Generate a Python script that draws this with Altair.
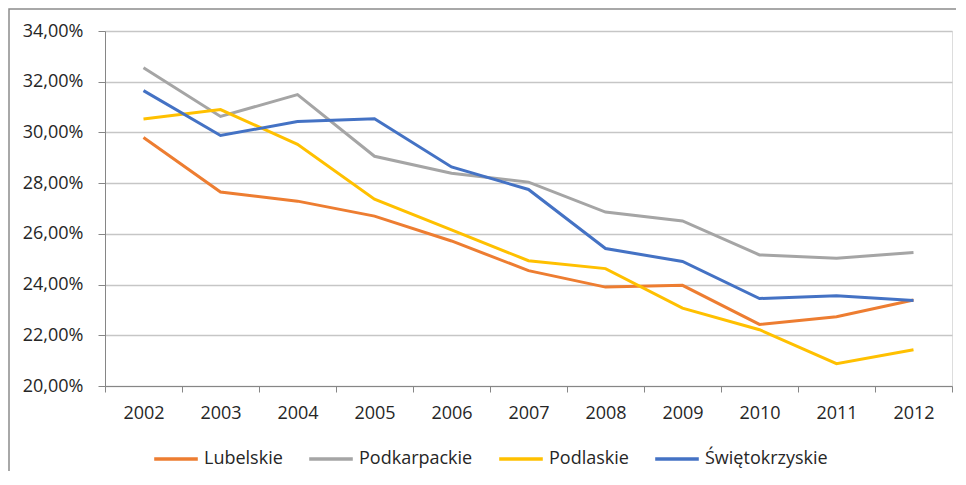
import altair as alt
import pandas as pd

years = ["2002", "2003", "2004", "2005", "2006", "2007", "2008", "2009", "2010", "2011", "2012"]
series_names = ["Lubelskie", "Podkarpackie", "Podlaskie", "Świętokrzyskie"]
lubelskie = [29.80, 27.65, 27.29, 26.70, 25.72, 24.55, 23.90, 23.97, 22.43, 22.73, 23.39]
podkarpackie = [32.55, 30.63, 31.49, 29.06, 28.39, 28.04, 26.86, 26.51, 25.17, 25.04, 25.26]
podlaskie = [30.53, 30.90, 29.53, 27.37, 26.16, 24.94, 24.63, 23.07, 22.22, 20.88, 21.43]
swietokrzyskie = [31.65, 29.88, 30.43, 30.54, 28.64, 27.75, 25.42, 24.91, 23.45, 23.56, 23.37]
colors = ["#ED7D31", "#A5A5A5", "#FFC000", "#4472C4"]
y_ticks = [20, 22, 24, 26, 28, 30, 32, 34]

rows = []
for name, vals in zip(series_names, [lubelskie, podkarpackie, podlaskie, swietokrzyskie]):
    for yr, v in zip(years, vals):
        rows.append({"Rok": yr, "Województwo": name, "Wartość": v})
df = pd.DataFrame(rows)

FONT = "Open Sans"

lines = alt.Chart(df).mark_line(strokeWidth=3).encode(
    x=alt.X("Rok:O", title=None, sort=years, bandPosition=0.5,
            scale=alt.Scale(type="band", paddingInner=0, paddingOuter=0),
            axis=alt.Axis(labelAngle=0, tickBand="extent", tickSize=6, labelPadding=12,
                          domainColor="#868686", tickColor="#868686", grid=False,
                          labelFont=FONT, labelFontSize=18, labelColor="#262626")),
    y=alt.Y("Wartość:Q", title=None,
            scale=alt.Scale(domain=[20, 34], nice=False, zero=False),
            axis=alt.Axis(values=y_ticks, tickSize=7, labelPadding=15,
                          labelExpr="replace(format(datum.value, '.2f'), '.', ',') + '%'",
                          domainColor="#868686", tickColor="#868686",
                          gridColor="#c6c6c6", gridWidth=1.3,
                          labelFont=FONT, labelFontSize=18, labelColor="#262626")),
    color=alt.Color("Województwo:N", sort=series_names,
                    scale=alt.Scale(domain=series_names, range=colors),
                    legend=alt.Legend(title=None, orient="none", direction="horizontal",
                                      legendX=47, legendY=404,
                                      symbolType="stroke", symbolSize=1900,
                                      symbolStrokeWidth=3.5, labelOffset=4,
                                      columnPadding=19, padding=0,
                                      labelFont=FONT, labelFontSize=18,
                                      labelColor="#262626")),
)

frame = alt.Chart(alt.Data(values=[{}])).mark_rect(
    fill=None, stroke="#8c8c8c", strokeWidth=1.5
).encode(
    x=alt.value(-96), x2=alt.value(3000),
    y=alt.value(-22), y2=alt.value(3000),
)

chart = alt.layer(frame, lines).properties(
    width=847, height=355,
    autosize=alt.AutoSizeParams(type="none"),
    padding={"left": 97, "top": 23, "right": 4, "bottom": 85},
).configure_view(stroke=None).configure(background="white")

chart.save("out.html", embed_options={"renderer": "svg", "actions": False})
